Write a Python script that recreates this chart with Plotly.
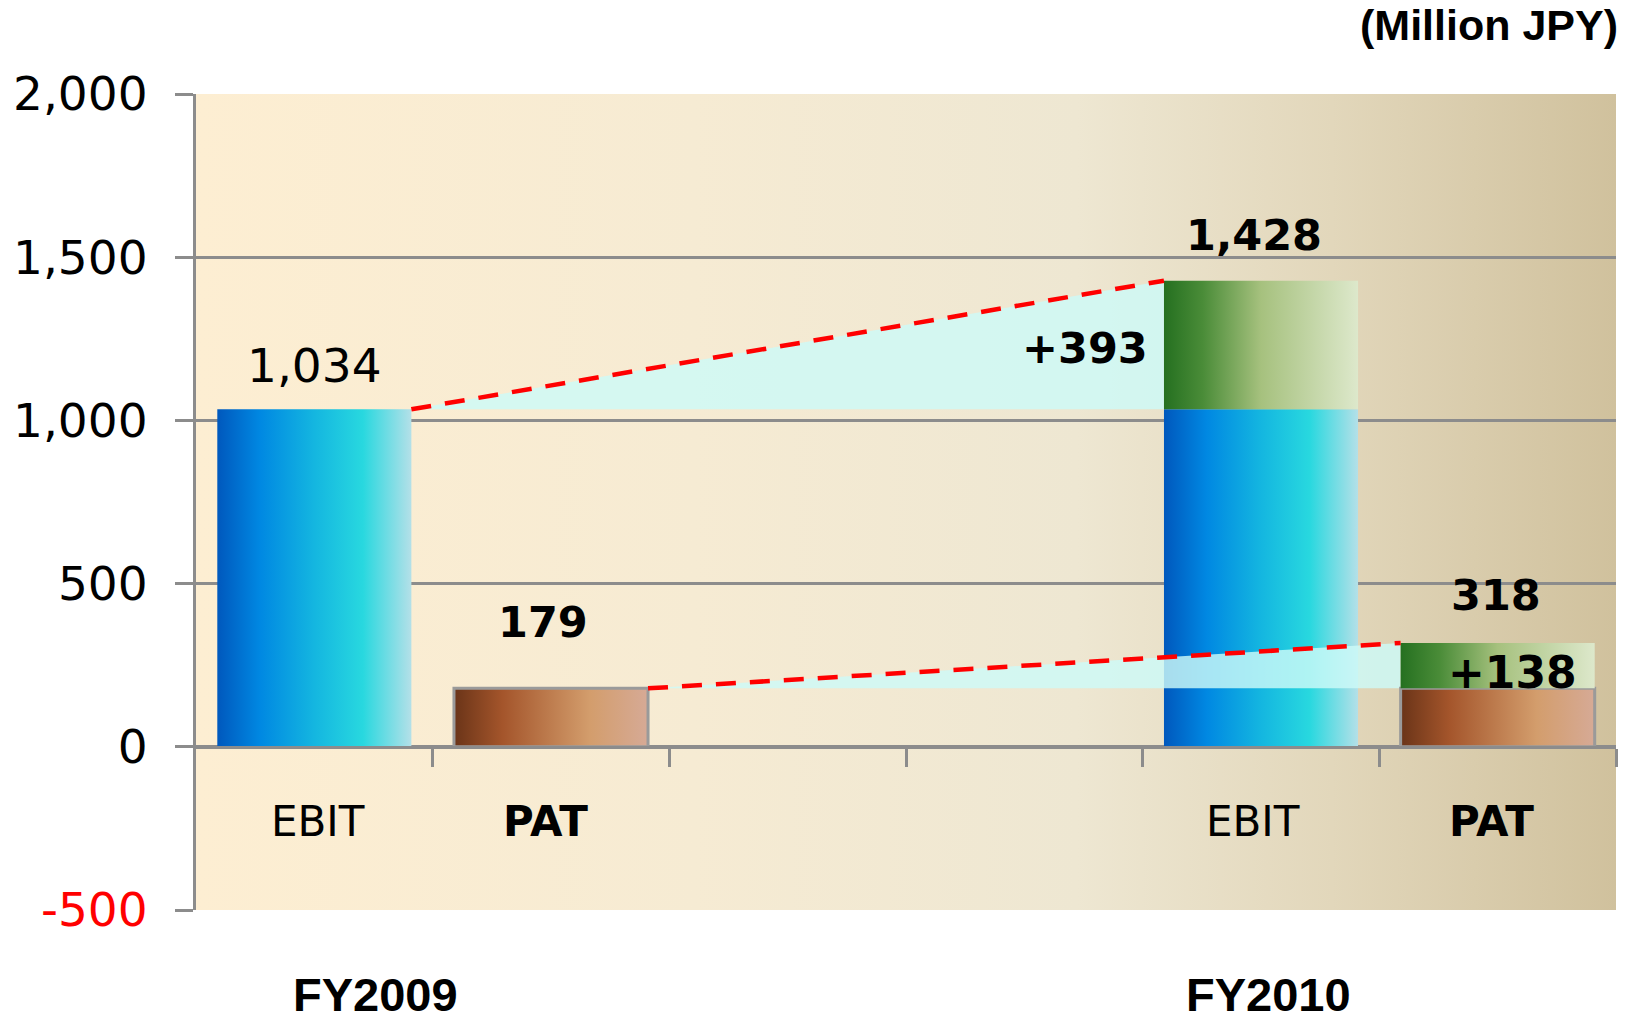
import base64
import plotly.graph_objects as go

# ---------------- data ----------------
years = ["FY2009", "FY2010"]
metrics = ["EBIT", "PAT"]
ebit_values = [1034, 1428]
pat_values = [179, 318]
changes = [393, 138]          # EBIT change, PAT change (as labelled)
y_ticks = [-500, 0, 500, 1000, 1500, 2000]
unit_label = "(Million JPY)"

# ---------------- layout constants ----------------
W, H = 1633, 1021
ML, MR, MT, MB = 196, 17, 94, 111
BAR_W = 0.82
slot = {("FY2009", "EBIT"): 0.5, ("FY2009", "PAT"): 1.5,
        ("FY2010", "EBIT"): 4.5, ("FY2010", "PAT"): 5.5}
GRID = "#8c8c8c"

BLUE = [[0, "#0058bd"], [0.22, "#0088e2"], [0.5, "#14b6e0"], [0.75, "#28d8df"], [1, "#b4e0e8"]]
GREEN = [[0, "#257020"], [0.2, "#4a8c38"], [0.5, "#a6c17e"], [1, "#dde8cb"]]
BROWN = [[0, "#6a3418"], [0.25, "#a4552b"], [0.7, "#d39d6c"], [1, "#d6aa96"]]
WEDGE = "rgba(205,250,248,0.82)"

fig = go.Figure()


def box(x_c, y0, y1, grad, border=None):
    x0, x1 = x_c - BAR_W / 2, x_c + BAR_W / 2
    line = dict(width=3, color=border) if border else dict(width=0, color="rgba(0,0,0,0)")
    fig.add_trace(go.Scatter(
        x=[x0, x1, x1, x0, x0], y=[y0, y0, y1, y1, y0],
        mode="lines", fill="toself", line=line,
        fillgradient=dict(type="horizontal", colorscale=grad),
        hoverinfo="skip", showlegend=False))


# FY2009 bars
box(slot[("FY2009", "EBIT")], 0, ebit_values[0], BLUE)
box(slot[("FY2009", "PAT")], 0, pat_values[0], BROWN, border="#9a9a9a")

# FY2010 EBIT base
box(slot[("FY2010", "EBIT")], 0, ebit_values[0], BLUE)


def wedge(x_from, x_to, v0, v1):
    fig.add_trace(go.Scatter(
        x=[x_from, x_to, x_to, x_from], y=[v0, v1, v0, v0],
        mode="lines", fill="toself", fillcolor=WEDGE,
        line=dict(width=0, color="rgba(0,0,0,0)"),
        hoverinfo="skip", showlegend=False))


e_from = slot[("FY2009", "EBIT")] + BAR_W / 2
e_to = slot[("FY2010", "EBIT")] - BAR_W / 2
p_from = slot[("FY2009", "PAT")] + BAR_W / 2
p_to = slot[("FY2010", "PAT")] - BAR_W / 2
wedge(e_from, e_to, ebit_values[0], ebit_values[1])
wedge(p_from, p_to, pat_values[0], pat_values[1])

# FY2010 increments + PAT base
box(slot[("FY2010", "EBIT")], ebit_values[0], ebit_values[1], GREEN)
box(slot[("FY2010", "PAT")], 0, pat_values[0], BROWN, border="#9a9a9a")
box(slot[("FY2010", "PAT")], pat_values[0], pat_values[1], GREEN)

# red dashed connector lines
for xa, xb, va, vb in [(e_from, e_to, ebit_values[0], ebit_values[1]),
                       (p_from, p_to, pat_values[0], pat_values[1])]:
    fig.add_trace(go.Scatter(x=[xa, xb], y=[va, vb], mode="lines",
                             line=dict(color="#ff0000", width=4.5, dash="20px,14px"),
                             hoverinfo="skip", showlegend=False))

# ---------------- annotations ----------------
ann = []
NUM = "DejaVu Sans"
ARIAL = "Liberation Sans"


def lab(text, x, y, size, bold, yshift=0, xshift=0, xanchor="center", family=NUM, color="black"):
    ann.append(dict(text=text, x=x, y=y, xref="x", yref="y", showarrow=False,
                    xanchor=xanchor, yanchor="middle", xshift=xshift, yshift=yshift,
                    font=dict(family=family, size=size, color=color,
                              weight="bold" if bold else "normal")))


lab(f"{ebit_values[0]:,}", slot[("FY2009", "EBIT")], ebit_values[0], 47, False, yshift=44)
lab(f"{pat_values[0]:,}", slot[("FY2009", "PAT")], pat_values[0], 43, True, yshift=66, xshift=-8)
lab(f"{ebit_values[1]:,}", slot[("FY2010", "EBIT")], ebit_values[1], 43, True, yshift=46, xshift=-7)
lab(f"+{changes[0]}", e_to, (ebit_values[0] + ebit_values[1]) / 2, 43, True,
    yshift=-3, xshift=-14, xanchor="right")
lab(f"{pat_values[1]:,}", slot[("FY2010", "PAT")], pat_values[1], 43, True, yshift=48, xshift=-2)
lab(f"+{changes[1]}", slot[("FY2010", "PAT")], (pat_values[0] + pat_values[1]) / 2, 44, True,
    yshift=-7, xshift=15)

for yr in years:
    for m in metrics:
        bold = (m == "PAT")
        lab(m, slot[(yr, m)], -230, 42, bold,
            xshift=-8 if m == "EBIT" and yr == "FY2010" else (4 if m == "EBIT" else -6))

# year labels below plot
year_x = {"FY2009": 0.76, "FY2010": 4.53}
for yr in years:
    ann.append(dict(text=yr, x=year_x[yr], xref="x", y=-0.103, yref="paper",
                    showarrow=False, xanchor="center", yanchor="middle",
                    font=dict(family=ARIAL, size=47, color="black", weight="bold")))

ann.append(dict(text=unit_label, x=1.003, xref="paper", y=1.084, yref="paper",
                showarrow=False, xanchor="right", yanchor="middle",
                font=dict(family=ARIAL, size=43, color="black", weight="bold")))

# ---------------- background gradient ----------------
svg = ('<svg xmlns="http://www.w3.org/2000/svg" width="200" height="100" preserveAspectRatio="none">'
       '<defs><linearGradient id="g" x1="0" x2="1" y1="0" y2="0">'
       '<stop offset="0" stop-color="#fdeed2"/>'
       '<stop offset="0.35" stop-color="#f6ebd3"/>'
       '<stop offset="0.62" stop-color="#eee7d2"/>'
       '<stop offset="0.8" stop-color="#e2d7bb"/>'
       '<stop offset="1" stop-color="#d0c19d"/>'
       '</linearGradient></defs><rect width="200" height="100" fill="url(#g)"/></svg>')
bg_src = "data:image/svg+xml;base64," + base64.b64encode(svg.encode()).decode()

ticktext = [f"<span style='color:#ff0000'>{v:,}</span>" if v < 0 else f"{v:,}" for v in y_ticks]

fig.update_layout(
    width=W, height=H,
    margin=dict(l=ML, r=MR, t=MT, b=MB, autoexpand=False),
    paper_bgcolor="white", plot_bgcolor="rgba(0,0,0,0)",
    showlegend=False,
    annotations=ann,
    images=[dict(source=bg_src, xref="paper", yref="paper", x=0, y=1, sizex=1, sizey=1,
                 xanchor="left", yanchor="top", sizing="stretch", layer="below")],
    xaxis=dict(range=[0, 6], anchor="free", position=0.2, showgrid=False, zeroline=False,
               showline=True, linecolor=GRID, linewidth=3, automargin=False,
               ticks="outside", tickvals=[1, 2, 3, 4, 5, 6], ticklen=18, tickwidth=3,
               tickcolor=GRID, showticklabels=False, fixedrange=True),
    yaxis=dict(range=[-500, 2000], tickvals=y_ticks, ticktext=ticktext,
               showgrid=True, gridcolor=GRID, gridwidth=3, zeroline=False,
               showline=True, linecolor=GRID, linewidth=3, automargin=False,
               ticks="outside", ticklen=18, tickwidth=3, tickcolor=GRID,
               ticklabelstandoff=18,
               tickfont=dict(family=NUM, size=47, color="black"), fixedrange=True),
)

fig.write_html("out.html", config={"displayModeBar": False, "staticPlot": True},
               post_script="document.body.style.margin='0px';document.body.style.overflow='hidden';")
